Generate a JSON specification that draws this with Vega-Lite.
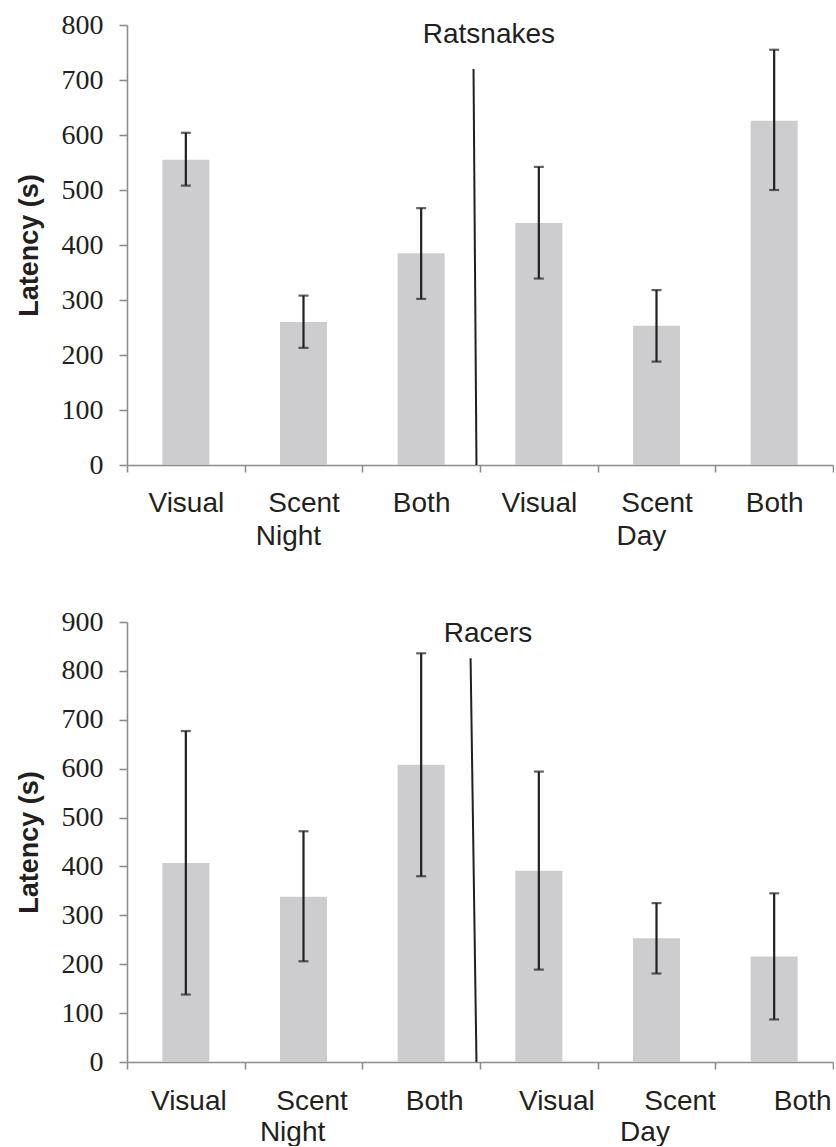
{
  "$schema": "https://vega.github.io/schema/vega-lite/v6.json",
  "padding": {"left": 15, "top": 11, "right": 0, "bottom": 0},
  "background": "white",
  "spacing": 58,
  "config": {
    "view": {"stroke": null},
    "axis": {
      "grid": false,
      "domainColor": "#8c8c8c",
      "domainWidth": 1.6,
      "tickColor": "#8c8c8c",
      "tickWidth": 1.6,
      "labelColor": "#231f20",
      "titleColor": "#231f20"
    },
    "axisY": {
      "titleFont": "Liberation Sans", "titleFontSize": 27, "titleFontWeight": "bold", "titlePadding": 18,
      "tickSize": 8, "labelPadding": 16, "labelFont": "Liberation Serif", "labelFontSize": 28
    }
  },
  "datasets": {
    "rows": [
      {"species": "Ratsnakes", "cond": "N-Visual", "latency": 555, "lo": 508, "hi": 604},
      {"species": "Ratsnakes", "cond": "N-Scent", "latency": 260, "lo": 213, "hi": 308},
      {"species": "Ratsnakes", "cond": "N-Both", "latency": 385, "lo": 302, "hi": 467},
      {"species": "Ratsnakes", "cond": "D-Visual", "latency": 440, "lo": 339, "hi": 542},
      {"species": "Ratsnakes", "cond": "D-Scent", "latency": 253, "lo": 188, "hi": 318},
      {"species": "Ratsnakes", "cond": "D-Both", "latency": 626, "lo": 500, "hi": 755},
      {"species": "Racers", "cond": "N-Visual", "latency": 407, "lo": 138, "hi": 677},
      {"species": "Racers", "cond": "N-Scent", "latency": 338, "lo": 206, "hi": 472},
      {"species": "Racers", "cond": "N-Both", "latency": 608, "lo": 380, "hi": 836},
      {"species": "Racers", "cond": "D-Visual", "latency": 391, "lo": 189, "hi": 594},
      {"species": "Racers", "cond": "D-Scent", "latency": 253, "lo": 181, "hi": 325},
      {"species": "Racers", "cond": "D-Both", "latency": 216, "lo": 87, "hi": 345}
    ]
  },
  "vconcat": [
    {
      "width": 706,
      "height": 440,
      "data": {"name": "rows"},
      "transform": [{"filter": "datum.species == 'Ratsnakes'"}],
      "encoding": {
        "x": {
          "field": "cond", "type": "nominal",
          "sort": ["N-Visual", "N-Scent", "N-Both", "D-Visual", "D-Scent", "D-Both"],
          "scale": {"paddingInner": 0, "paddingOuter": 0},
          "axis": {
            "title": null, "labelAngle": 0, "tickBand": "extent", "tickSize": 7,
            "labelFont": "Liberation Sans", "labelFontSize": 28, "labelPadding": 17, "labelLineHeight": 33,
            "labelBaseline": "top",
            "labelExpr": "datum.value == 'N-Scent' ? ['Scent', 'Night\u00a0\u00a0\u00a0\u00a0\u200b'] : datum.value == 'D-Scent' ? ['Scent', 'Day\u00a0\u00a0\u00a0\u00a0\u200b'] : split(datum.value, '-')[1]"
          }
        }
      },
      "layer": [
        {
          "mark": {"type": "bar", "color": "#cdcdcf", "width": {"band": 0.4}},
          "encoding": {
            "y": {
              "field": "latency", "type": "quantitative",
              "scale": {"domain": [0, 800], "nice": false},
              "axis": {"title": "Latency (s)", "values": [0, 100, 200, 300, 400, 500, 600, 700, 800]}
            }
          }
        },
        {
          "mark": {"type": "errorbar", "ticks": {"size": 10, "thickness": 2.2, "color": "#231f20"}, "rule": {"strokeWidth": 2.2, "color": "#231f20"}},
          "encoding": {
            "y": {"field": "lo", "type": "quantitative", "axis": {"title": "Latency (s)", "values": [0, 100, 200, 300, 400, 500, 600, 700, 800]}},
            "y2": {"field": "hi"}
          }
        },
        {
          "data": {"values": [{"top": 720}]},
          "mark": {"type": "rule", "color": "#231f20", "strokeWidth": 2},
          "encoding": {
            "x": {"datum": "N-Both", "type": "nominal", "bandPosition": 0.945},
            "x2": {"datum": "N-Both", "bandPosition": 0.97},
            "y": {"field": "top", "type": "quantitative"},
            "y2": {"datum": 0}
          }
        },
        {
          "data": {"values": [{"label": "Ratsnakes"}]},
          "mark": {"type": "text", "font": "Liberation Sans", "fontSize": 28, "color": "#231f20", "baseline": "alphabetic", "align": "center", "dy": 18},
          "encoding": {
            "x": {"datum": "N-Both", "type": "nominal", "bandPosition": 1.076},
            "y": {"datum": 800, "type": "quantitative"},
            "text": {"field": "label"}
          }
        }
      ]
    },
    {
      "width": 706,
      "height": 440,
      "data": {"name": "rows"},
      "transform": [{"filter": "datum.species == 'Racers'"}],
      "encoding": {
        "x": {
          "field": "cond", "type": "nominal",
          "sort": ["N-Visual", "N-Scent", "N-Both", "D-Visual", "D-Scent", "D-Both"],
          "scale": {"paddingInner": 0, "paddingOuter": 0},
          "axis": {
            "title": null, "labelAngle": 0, "tickBand": "extent", "tickSize": 7,
            "labelFont": "Liberation Sans", "labelFontSize": 28, "labelPadding": 18, "labelLineHeight": 31,
            "labelBaseline": "top",
            "labelOffset": {"condition": [
              {"test": "datum.value == 'N-Visual'", "value": 2.5},
              {"test": "datum.value == 'N-Scent'", "value": 8},
              {"test": "datum.value == 'N-Both'", "value": 13},
              {"test": "datum.value == 'D-Visual'", "value": 17.5},
              {"test": "datum.value == 'D-Scent'", "value": 23}
            ], "value": 28},
            "labelExpr": "datum.value == 'N-Scent' ? ['Scent', 'Night\u00a0\u00a0\u00a0\u00a0\u00a0\u200b'] : datum.value == 'D-Scent' ? ['Scent', 'Day\u00a0\u00a0\u00a0\u00a0\u00a0\u00a0\u00a0\u00a0\u00a0\u200b'] : split(datum.value, '-')[1]"
          }
        }
      },
      "layer": [
        {
          "mark": {"type": "bar", "color": "#cdcdcf", "width": {"band": 0.4}},
          "encoding": {
            "y": {
              "field": "latency", "type": "quantitative",
              "scale": {"domain": [0, 900], "nice": false},
              "axis": {"title": "Latency (s)", "values": [0, 100, 200, 300, 400, 500, 600, 700, 800, 900]}
            }
          }
        },
        {
          "mark": {"type": "errorbar", "ticks": {"size": 10, "thickness": 2.2, "color": "#231f20"}, "rule": {"strokeWidth": 2.2, "color": "#231f20"}},
          "encoding": {
            "y": {"field": "lo", "type": "quantitative", "axis": {"title": "Latency (s)", "values": [0, 100, 200, 300, 400, 500, 600, 700, 800, 900]}},
            "y2": {"field": "hi"}
          }
        },
        {
          "data": {"values": [{"top": 826}]},
          "mark": {"type": "rule", "color": "#231f20", "strokeWidth": 2},
          "encoding": {
            "x": {"datum": "N-Both", "type": "nominal", "bandPosition": 0.92},
            "x2": {"datum": "N-Both", "bandPosition": 0.97},
            "y": {"field": "top", "type": "quantitative"},
            "y2": {"datum": 0}
          }
        },
        {
          "data": {"values": [{"label": "Racers"}]},
          "mark": {"type": "text", "font": "Liberation Sans", "fontSize": 28, "color": "#231f20", "baseline": "alphabetic", "align": "center", "dy": 19.5},
          "encoding": {
            "x": {"datum": "N-Both", "type": "nominal", "bandPosition": 1.068},
            "y": {"datum": 900, "type": "quantitative"},
            "text": {"field": "label"}
          }
        }
      ]
    }
  ]
}
